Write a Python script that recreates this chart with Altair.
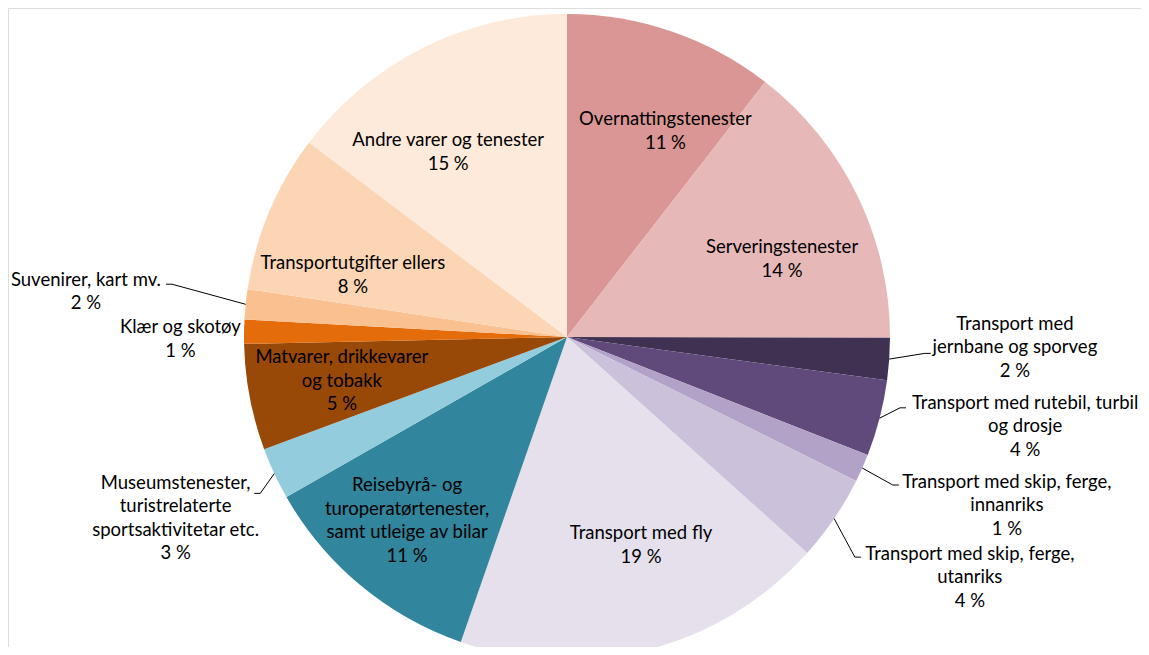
import math
import altair as alt
import pandas as pd

# ---------------- data ----------------
categories = [
    "Overnattingstenester",
    "Serveringstenester",
    "Transport med jernbane og sporveg",
    "Transport med rutebil, turbil og drosje",
    "Transport med skip, ferge, innanriks",
    "Transport med skip, ferge, utanriks",
    "Transport med fly",
    "Reisebyrå- og turoperatørtenester, samt utleige av bilar",
    "Museumstenester, turistrelaterte sportsaktivitetar etc.",
    "Matvarer, drikkevarer og tobakk",
    "Klær og skotøy",
    "Suvenirer, kart mv.",
    "Transportutgifter ellers",
    "Andre varer og tenester",
]
values = [10.5, 14.5, 2.1, 3.8, 1.4, 4.3, 18.65, 11.4, 2.6, 5.3, 1.2, 1.5, 7.9, 14.7]
label_lines = [
    "Overnattingstenester",
    "Serveringstenester",
    "Transport med\njernbane og sporveg",
    "Transport med rutebil, turbil\nog drosje",
    "Transport med skip, ferge,\ninnanriks",
    "Transport med skip, ferge,\nutanriks",
    "Transport med fly",
    "Reisebyrå- og\nturoperatørtenester,\nsamt utleige av bilar",
    "Museumstenester,\nturistrelaterte\nsportsaktivitetar etc.",
    "Matvarer, drikkevarer\nog tobakk",
    "Klær og skotøy",
    "Suvenirer, kart mv.",
    "Transportutgifter ellers",
    "Andre varer og tenester",
]
pct_labels = ["11 %", "14 %", "2 %", "4 %", "1 %", "4 %", "19 %", "11 %", "3 %", "5 %", "1 %", "2 %", "8 %", "15 %"]

colors = ["#D99694", "#E6B9B8", "#3F3151", "#604A7B", "#B3A2C7", "#CCC1DA", "#E5E0EC",
          "#31859C", "#93CDDD", "#984807", "#E46C0A", "#FAC090", "#FCD5B5", "#FDEADA"]

# ---------------- layout (style) ----------------
W, H = 1133, 639          # plot area
CX, CY, R = 559, 329, 323  # pie centre inside plot area, radius (px)
FONT = "Lato"
FS = 18.5
LH = 23.5
# label placement: angular nudge (deg) from slice middle, radius as fraction of R
label_nudge = [6.6, 6.1, -2.6, -3.55, -3.0, -3.4, -5.2, 1.35, 0.2, -0.2, -1.25, -0.4, -6.6, -6.2]
label_rad = [0.707, 0.708, 1.387, 1.445, 1.458, 1.452, 0.683, 0.753, 1.335, 0.710, 1.197, 1.496, 0.690, 0.681]
# leader lines (outside labels): elbow nudge (deg) and radius fraction; None = no leader
leader = [None, None, (-1.3, 1.109), (-2.55, 1.054), (0.5, 1.108), (3.2, 1.122), None, None,
          (-2.0, 1.066), None, None, (1.8, 1.234), None, None]
TAIL = 6 / R

# ---------------- derived tables ----------------
total = sum(values)
mids = []
acc = 0.0
for v in values:
    mids.append((acc + v / 2) / total * 360.0)
    acc += v

def pol(a_deg, r):
    a = math.radians(a_deg)
    return r * math.sin(a), r * math.cos(a)

pie_df = pd.DataFrame({"cat": categories, "value": values, "idx": list(range(len(values)))})

lab_rows = []
for i, c in enumerate(categories):
    x, y = pol(mids[i] + label_nudge[i], label_rad[i])
    text = label_lines[i] + "\n" + pct_labels[i]
    n = text.count("\n") + 1
    y += (n - 1) * LH / 2 / R  # Vega anchors first line; centre the block
    lab_rows.append({"cat": c, "x": x, "y": y, "text": text})
lab_df = pd.DataFrame(lab_rows)

lead_rows = []
for i, c in enumerate(categories):
    if leader[i] is None:
        continue
    x0, y0 = pol(mids[i], 1.0)
    x1, y1 = pol(mids[i] + leader[i][0], leader[i][1])
    side = 1 if x1 > 0 else -1
    lead_rows += [
        {"cat": c, "pt": 0, "x": x0, "y": y0},
        {"cat": c, "pt": 1, "x": x1, "y": y1},
        {"cat": c, "pt": 2, "x": x1 + side * TAIL, "y": y1},
    ]
lead_df = pd.DataFrame(lead_rows)

xs = alt.Scale(domain=[-CX / R, (W - CX) / R], nice=False, zero=False)
ys = alt.Scale(domain=[-(H - CY) / R, CY / R], nice=False, zero=False)

pie = alt.Chart(pie_df).mark_arc(radius=R, strokeWidth=0).encode(
    theta=alt.Theta("value:Q", stack=True),
    color=alt.Color("cat:N", scale=alt.Scale(domain=categories, range=colors), legend=None),
    order=alt.Order("idx:Q"),
    x=alt.X(datum=0, scale=xs, axis=None),
    y=alt.Y(datum=0, scale=ys, axis=None),
)

leads = alt.Chart(lead_df).mark_line(color="black", strokeWidth=1).encode(
    x=alt.X("x:Q", scale=xs, axis=None),
    y=alt.Y("y:Q", scale=ys, axis=None),
    detail="cat:N",
    order="pt:Q",
)

labels = alt.Chart(lab_df).mark_text(
    font=FONT, fontSize=FS, lineBreak="\n", lineHeight=LH,
    align="center", baseline="middle", color="#000000",
).encode(
    x=alt.X("x:Q", scale=xs, axis=None),
    y=alt.Y("y:Q", scale=ys, axis=None),
    text="text:N",
)

chart = alt.layer(pie, leads, labels).properties(
    width=W, height=H, padding=0,
    autosize=alt.AutoSizeParams(type="none"),
).configure_view(stroke="transparent", strokeWidth=0, fill="white").configure(background="white")

chart.save("out.html", embed_options={"renderer": "svg", "actions": False})
